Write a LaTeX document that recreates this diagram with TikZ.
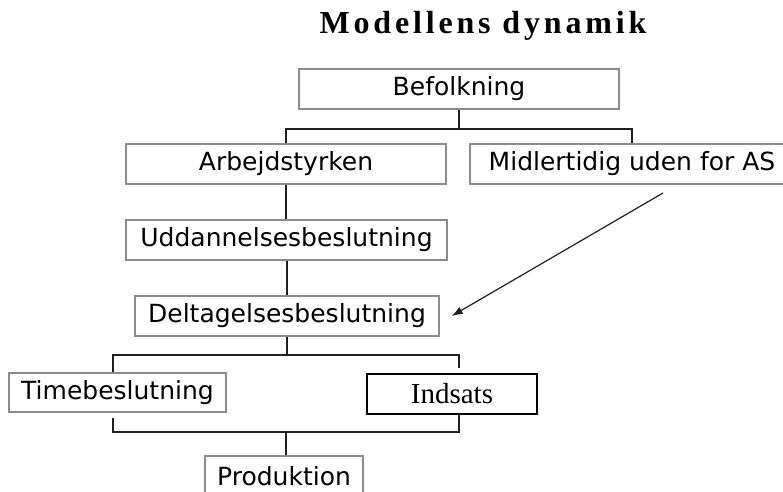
\documentclass[tikz,border=0pt]{standalone}
\usepackage{fontspec}
\setmainfont{Liberation Serif}
\newfontfamily\boxfont{DejaVu Sans}
\usetikzlibrary{positioning}
\usetikzlibrary{arrows.meta}
\definecolor{boxgray}{HTML}{8C8C8C}
\definecolor{linedark}{HTML}{202020}
\tikzset{
        treebox/.style={align=center,inner sep=0pt,minimum height=40pt},
        % Grey framed boxes
        box_plain/.style={treebox, rectangle, draw=boxgray, line width=1.4pt, font=\boxfont\fontsize{25}{29}\selectfont},
        % Black framed box
        box_dark/.style={treebox, rectangle, draw=black, line width=1.4pt, font=\fontsize{29}{33}\selectfont},
        % Connectors
        link/.style={draw=linedark, line width=2pt},
        flow/.style={draw=linedark, line width=1.2pt, -{Latex[length=11pt,width=8pt]}}
}
\begin{document}
\begin{tikzpicture}[x=1pt,y=-1pt]
    \clip (0,0) rectangle (783,491);
    \node[anchor=base, font=\bfseries\fontsize{32}{36}\selectfont\addfontfeatures{LetterSpace=12}] (title) at (483,33) {Modellens dynamik};
    \node[box_plain, minimum width=320pt] (befolk) at (459,89) {Befolkning};
    \node[box_plain, minimum width=320pt] (arbejd) at (286,164) {Arbejdstyrken};
    \node[box_plain, minimum width=324pt] (midl) at (632,164) {Midlertidig uden for AS};
    \node[box_plain, minimum width=321pt] (uddan) at (286.5,240) {Uddannelsesbeslutning};
    \node[box_plain, minimum width=304pt] (delt) at (287,316) {Deltagelsesbeslutning};
    \node[box_plain, minimum width=217pt, minimum height=39pt] (time) at (117.5,392.5) {Timebeslutning};
    \node[box_dark, minimum width=170pt] (indsats) at (452,394) {Indsats};
    \node[box_plain, minimum width=158pt] (prod) at (284,476) {Produktion};
    \coordinate (arrfrom) at (663,193);
    \coordinate (join) at ([yshift=23pt]prod.north -| arbejd.south);
    % Tree connectors
    \draw[link] (befolk.south) -- ++(0,19) coordinate (split1);
    \draw[link] (split1) -| (arbejd.north);
    \draw[link] (split1) -| (midl.north);
    \draw[link] (arbejd.south) -- (uddan.north -| arbejd.south);
    \draw[link] (uddan.south -| delt.north) -- (delt.north);
    \draw[link] (delt.south) -- ++(0,18) coordinate (split2);
    \draw[link] (split2) -| ([xshift=-4.5pt]time.north);
    \draw[link] (split2) -| ([xshift=7pt,yshift=5pt]indsats.north);
    \draw[link] ([xshift=-4.5pt,yshift=-5pt]time.south) |- (join);
    \draw[link] ([xshift=7pt]indsats.south) |- (join);
    \draw[link] (join) -- (prod.north -| join);
    \draw[flow] (arrfrom) -- ([xshift=12pt]delt.east);
\end{tikzpicture}
\end{document}
